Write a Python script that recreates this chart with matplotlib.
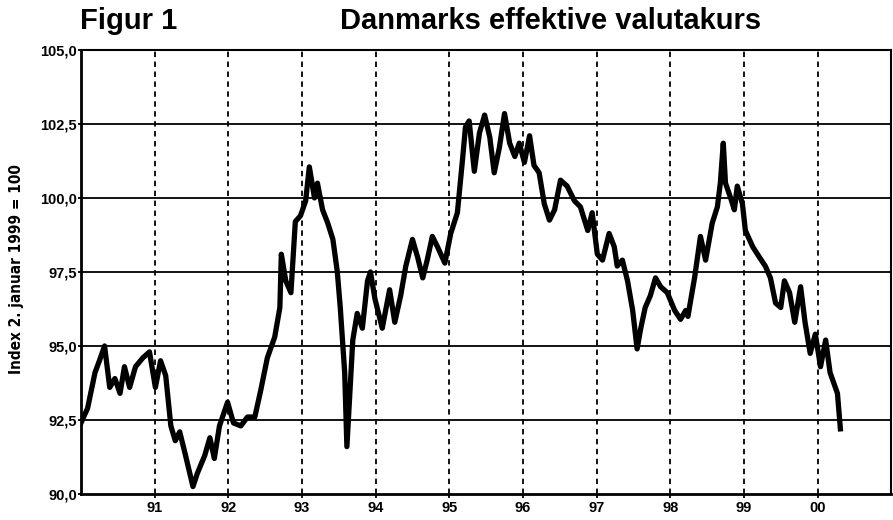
import numpy as np
import matplotlib.pyplot as plt
from matplotlib.ticker import FixedLocator, FuncFormatter

# Effective krone rate (decimal year, index)
years = [1990.00, 1990.09, 1990.19, 1990.25, 1990.32, 1990.39, 1990.46, 1990.53,
         1990.59, 1990.66, 1990.74, 1990.84, 1990.93, 1991.01, 1991.08, 1991.15,
         1991.22, 1991.28, 1991.34, 1991.41, 1991.52, 1991.58, 1991.68, 1991.75,
         1991.81, 1991.88, 1991.99, 1992.07, 1992.17, 1992.26, 1992.36, 1992.44,
         1992.53, 1992.63, 1992.70, 1992.72, 1992.78, 1992.85, 1992.91, 1992.98,
         1993.05, 1993.10, 1993.17, 1993.21, 1993.28, 1993.35, 1993.42, 1993.48,
         1993.52, 1993.58, 1993.61, 1993.65, 1993.69, 1993.75, 1993.82, 1993.89,
         1993.93, 1993.99, 1994.09, 1994.19, 1994.26, 1994.34, 1994.41, 1994.50,
         1994.57, 1994.64, 1994.70, 1994.77, 1994.84, 1994.94, 1995.02, 1995.11,
         1995.18, 1995.22, 1995.27, 1995.34, 1995.41, 1995.48, 1995.55, 1995.61,
         1995.68, 1995.75, 1995.82, 1995.89, 1995.95, 1996.02, 1996.09, 1996.15,
         1996.22, 1996.29, 1996.36, 1996.43, 1996.51, 1996.60, 1996.70, 1996.78,
         1996.88, 1996.94, 1997.01, 1997.08, 1997.17, 1997.24, 1997.28, 1997.35,
         1997.42, 1997.49, 1997.55, 1997.60, 1997.66, 1997.73, 1997.80, 1997.87,
         1997.96, 1998.06, 1998.14, 1998.21, 1998.24, 1998.33, 1998.41, 1998.48,
         1998.57, 1998.64, 1998.68, 1998.72, 1998.75, 1998.82, 1998.87, 1998.91,
         1998.98, 1999.02, 1999.12, 1999.21, 1999.29, 1999.36, 1999.43, 1999.50,
         1999.55, 1999.62, 1999.69, 1999.77, 1999.83, 1999.90, 1999.97, 2000.04,
         2000.11, 2000.17, 2000.27, 2000.31]
index = [92.4, 92.9, 94.1, 94.5, 95.0, 93.6, 93.9, 93.4,
         94.3, 93.6, 94.3, 94.6, 94.8, 93.6, 94.5, 94.0,
         92.3, 91.8, 92.1, 91.4, 90.25, 90.7, 91.3, 91.9,
         91.2, 92.3, 93.1, 92.4, 92.3, 92.6, 92.6, 93.5,
         94.6, 95.3, 96.3, 98.1, 97.2, 96.8, 99.2, 99.4,
         99.9, 101.05, 100.0, 100.5, 99.6, 99.15, 98.6, 97.5,
         96.3, 94.1, 91.6, 93.4, 95.2, 96.1, 95.6, 97.2,
         97.5, 96.6, 95.6, 96.9, 95.8, 96.7, 97.7, 98.6,
         98.0, 97.3, 97.9, 98.7, 98.35, 97.8, 98.8, 99.5,
         101.3, 102.4, 102.6, 100.9, 102.2, 102.8, 102.05, 100.85,
         101.7, 102.85, 101.85, 101.4, 101.85, 101.2, 102.1, 101.1,
         100.85, 99.8, 99.25, 99.6, 100.6, 100.4, 99.9, 99.7,
         98.9, 99.5, 98.1, 97.9, 98.8, 98.35, 97.7, 97.9,
         97.2, 96.2, 94.9, 95.6, 96.3, 96.7, 97.3, 97.0,
         96.8, 96.2, 95.9, 96.2, 96.0, 97.3, 98.7, 97.9,
         99.15, 99.7, 100.5, 101.85, 100.5, 100.0, 99.6, 100.4,
         99.8, 98.9, 98.35, 98.0, 97.7, 97.3, 96.45, 96.3,
         97.2, 96.8, 95.8, 97.0, 95.8, 94.75, 95.4, 94.3,
         95.2, 94.1, 93.4, 92.2]

year_ticks = [1991, 1992, 1993, 1994, 1995, 1996, 1997, 1998, 1999, 2000]
year_labels = ['91', '92', '93', '94', '95', '96', '97', '98', '99', '00']
y_ticks = [90.0, 92.5, 95.0, 97.5, 100.0, 102.5, 105.0]

plt.rcParams['font.family'] = ['Liberation Sans', 'DejaVu Sans']

fig = plt.figure(figsize=(8.93, 5.2), dpi=100)
ax = fig.add_axes([0.0907, 0.05, 0.9073, 0.854])

# grid: solid horizontal, dashed vertical
for v in y_ticks[1:-1]:
    ax.axhline(v, color='black', lw=1.3, zorder=1)
for yr in year_ticks:
    ax.axvline(yr, color='black', lw=1.3, ls=(0, (3, 2.5)), zorder=1)

ax.plot(years, index, color='black', lw=3.8, solid_joinstyle='round', zorder=3)

ax.set_xlim(1990.0, 2001.0)
ax.set_ylim(90, 105)
ax.xaxis.set_major_locator(FixedLocator(year_ticks))
ax.set_xticklabels(year_labels)
ax.yaxis.set_major_locator(FixedLocator(y_ticks))
ax.yaxis.set_major_formatter(FuncFormatter(lambda v, p: f'{v:.1f}'.replace('.', ',')))

ax.tick_params(axis='x', length=3, width=1.3, pad=2, labelsize=10.5)
ax.tick_params(axis='y', length=2, width=1.3, pad=1, labelsize=10.5)
for lab in ax.get_xticklabels() + ax.get_yticklabels():
    lab.set_fontweight('bold')

for side in ['left', 'bottom']:
    ax.spines[side].set_linewidth(2.0)
for side in ['top', 'right']:
    ax.spines[side].set_linewidth(1.5)

fig.text(0.019, 0.482, 'Index 2. januar 1999 = 100', rotation=90, va='center', ha='center',
         fontsize=11, fontweight='bold', fontstretch='condensed',
         family=['DejaVu Sans', 'Liberation Sans'])

fig.text(0.090, 0.96, 'Figur 1', fontsize=21, fontweight='bold', va='center', ha='left')
fig.text(0.617, 0.96, 'Danmarks effektive valutakurs', fontsize=21, fontweight='bold',
         va='center', ha='center')

fig.savefig('out.png', dpi=100)
